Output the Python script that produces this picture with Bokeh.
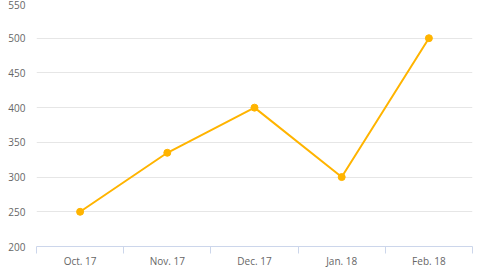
from bokeh.plotting import figure
from bokeh.models import FixedTicker, Range1d
from bokeh.embed import file_html
from bokeh.resources import INLINE

months = ["Oct. 17", "Nov. 17", "Dec. 17", "Jan. 18", "Feb. 18"]
values = [250, 335, 400, 300, 500]
y_ticks = [200, 250, 300, 350, 400, 450, 500, 550]

xs = list(range(len(months)))

p = figure(width=480, height=270, output_backend="svg", toolbar_location=None,
           x_range=Range1d(-0.5, len(months) - 0.5), y_range=Range1d(200, 550),
           min_border_left=36, min_border_right=8, min_border_top=3, min_border_bottom=0)
p.outline_line_color = None
p.background_fill_color = "white"
p.border_fill_color = "white"

p.line(xs, values, line_color="#FFB400", line_width=2)
p.scatter(xs, values, size=7, fill_color="#FFB400", line_color="#FFB400")

# x axis
p.xaxis.ticker = FixedTicker(ticks=xs, minor_ticks=[i - 0.5 for i in range(len(months) + 1)])
p.xaxis.major_label_overrides = {i: m for i, m in enumerate(months)}
p.xaxis.major_tick_line_color = None
p.xaxis.major_tick_out = 0
p.xaxis.major_tick_in = 0
p.xaxis.minor_tick_out = 7
p.xaxis.minor_tick_in = 0
p.xaxis.minor_tick_line_color = "#ccd6eb"
p.xaxis.axis_line_color = "#ccd6eb"
p.xaxis.major_label_text_color = "#666666"
p.xaxis.major_label_text_font = "Open Sans"
p.xaxis.major_label_text_font_size = "10px"
p.xaxis.major_label_standoff = 0
p.xaxis.axis_label_standoff = 0
p.xgrid.grid_line_color = None

# y axis
p.yaxis.ticker = FixedTicker(ticks=y_ticks)
p.yaxis.axis_line_color = None
p.yaxis.major_tick_line_color = None
p.yaxis.major_tick_out = 0
p.yaxis.minor_tick_line_color = None
p.yaxis.major_label_text_color = "#666666"
p.yaxis.major_label_text_font = "Open Sans"
p.yaxis.major_label_text_font_size = "10px"
p.yaxis.major_label_standoff = 11
p.ygrid.grid_line_color = "#e6e6e6"
p.ygrid.ticker = FixedTicker(ticks=y_ticks)

open("out.html", "w").write(file_html(p, INLINE))
